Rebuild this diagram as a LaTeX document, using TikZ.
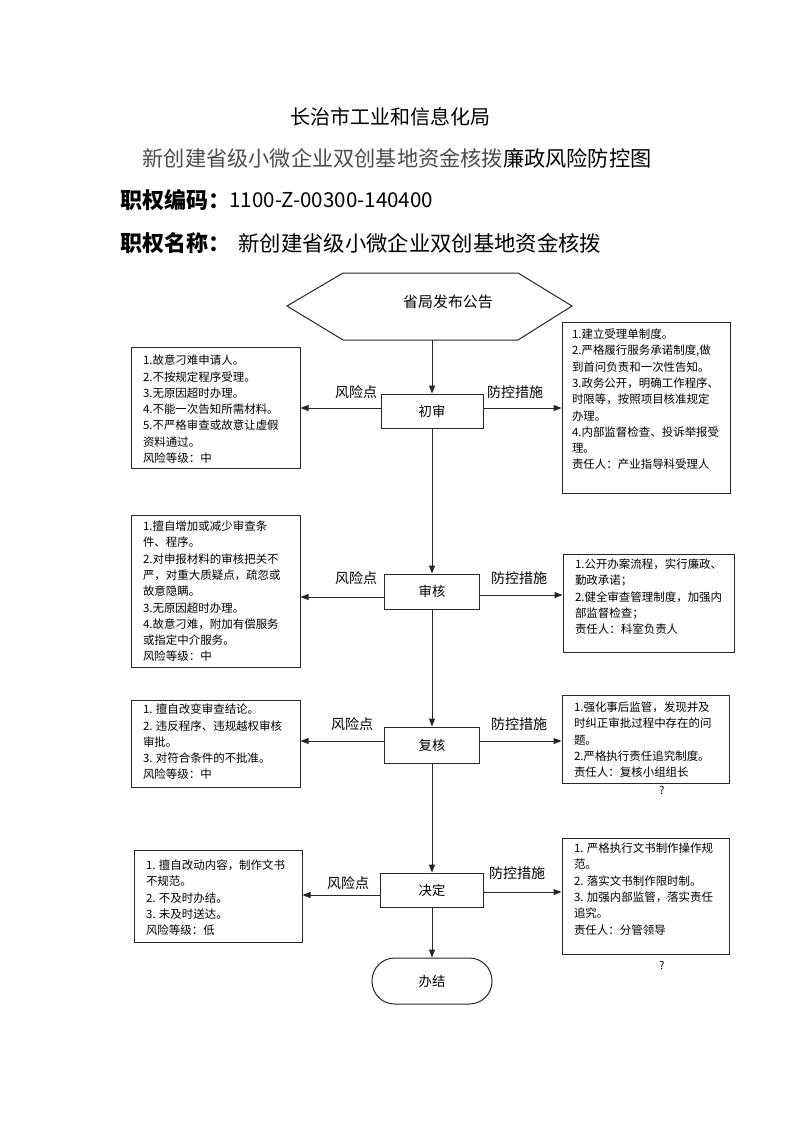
\documentclass[tikz,border=0pt]{standalone}
\usepackage{fontspec}
\setmainfont{Noto Sans CJK SC}
\usetikzlibrary{arrows.meta,fit}

\begin{document}
\begin{tikzpicture}[x=0.75pt,y=-0.75pt,line width=0.75pt,
  flow/.style={draw=black!85,-{Triangle[length=6pt,width=4.5pt]}},
  procbox/.style={draw=black!85,inner sep=0pt,font=\fontsize{10}{12}\selectfont},
  framebox/.style={draw=black!85,inner sep=0pt},
  memo/.style={inner sep=0pt,anchor=north west,align=left,font=\fontsize{8.6}{12.2}\selectfont},
  tag/.style={inner sep=0pt,font=\fontsize{10.5}{12}\selectfont}]
 \fill[white] (0,0) rectangle (794,1123);
 % heading
 \node[inner sep=0pt,font=\fontsize{15}{18}\selectfont] (org) at (390,117) {长治市工业和信息化局};
 \node[inner sep=0pt,font=\fontsize{15.9}{18}\selectfont] (title) at (397,158)
  {\textcolor{black!70}{新创建省级小微企业双创基地资金核拨}廉政风险防控图};
 \node[inner sep=0pt,anchor=west,font=\fontsize{16.5}{20}\selectfont\bfseries] (codelbl) at (120,200) {职权编码：};
 \node[inner sep=0pt,anchor=west,font=\fontsize{15.4}{20}\selectfont] (code) at (229,200) {1100-Z-00300-140400};
 \node[inner sep=0pt,anchor=west,font=\fontsize{16.5}{20}\selectfont\bfseries] (namelbl) at (120,243) {职权名称：};
 \node[inner sep=0pt,anchor=west,font=\fontsize{16}{20}\selectfont] (name) at (238,243) {新创建省级小微企业双创基地资金核拨};
 % start
 \draw[black!85] (287,306) -- (343,273) -- (518,273) -- (572,306) -- (518,340) -- (343,340) -- cycle;
 \node[inner sep=0pt,font=\fontsize{11.2}{13}\selectfont] (notice) at (448,302) {省局发布公告};
 \coordinate (hexbot) at (432,340);
 % steps
 \node[procbox,minimum width=76.5pt,minimum height=25.5pt] (chushen) at (432,411) {初审};
 \node[procbox,minimum width=71.25pt,minimum height=26.25pt] (shenhe) at (432,591.5) {审核};
 \node[procbox,minimum width=71.25pt,minimum height=27pt] (fuhe) at (432,745) {复核};
 \node[procbox,minimum width=77.25pt,minimum height=25.5pt] (jueding) at (432,890) {决定};
 \node[procbox,minimum width=90pt,minimum height=34.5pt,rounded corners=17pt] (banjie) at (432,981) {办结};
 % risk boxes
 \node[framebox,fit={(131,347) (300,468)}] (riskA) {};
 \node[framebox,fit={(131,515) (300,667)}] (riskB) {};
 \node[framebox,fit={(131,700) (300,787)}] (riskC) {};
 \node[framebox,fit={(134,850) (302,942)}] (riskD) {};
 \node[memo] (riskAtxt) at ([shift={(12,8)}]riskA.north west)
  {1.故意刁难申请人。\\2.不按规定程序受理。\\3.无原因超时办理。\\4.不能一次告知所需材料。\\5.不严格审查或故意让虚假\\资料通过。\\风险等级：中};
 \node[memo] (riskBtxt) at ([shift={(12,6)}]riskB.north west)
  {1.擅自增加或减少审查条\\件、程序。\\2.对申报材料的审核把关不\\严，对重大质疑点，疏忽或\\故意隐瞒。\\3.无原因超时办理。\\4.故意刁难，附加有偿服务\\或指定中介服务。\\风险等级：中};
 \node[memo] (riskCtxt) at ([shift={(12,4)}]riskC.north west)
  {1. 擅自改变审查结论。\\2. 违反程序、违规越权审核\\审批。\\3. 对符合条件的不批准。\\风险等级：中};
 \node[memo] (riskDtxt) at ([shift={(12,10)}]riskD.north west)
  {1. 擅自改动内容，制作文书\\不规范。\\2. 不及时办结。\\3. 未及时送达。\\风险等级：低};
 % control boxes
 \node[framebox,fit={(562,322) (730,493)}] (ctrlA) {};
 \node[framebox,fit={(563,554) (734,652)}] (ctrlB) {};
 \node[framebox,fit={(562,695) (729,783)}] (ctrlC) {};
 \node[framebox,fit={(562,838) (729,954)}] (ctrlD) {};
 \node[memo] (ctrlAtxt) at ([shift={(10,7)}]ctrlA.north west)
  {1.建立受理单制度。\\2.严格履行服务承诺制度,做\\到首问负责和一次性告知。\\3.政务公开，明确工作程序、\\时限等，按照项目核准规定\\办理。\\4.内部监督检查、投诉举报受\\理。\\责任人：产业指导科受理人};
 \node[memo] (ctrlBtxt) at ([shift={(12,5)}]ctrlB.north west)
  {1.公开办案流程，实行廉政、\\勤政承诺；\\2.健全审查管理制度，加强内\\部监督检查；\\责任人：科室负责人};
 \node[memo] (ctrlCtxt) at ([shift={(12,7)}]ctrlC.north west)
  {1.强化事后监管，发现并及\\时纠正审批过程中存在的问\\题。\\2.严格执行责任追究制度。\\责任人：复核小组组长};
 \node[memo] (ctrlDtxt) at ([shift={(12,5)}]ctrlD.north west)
  {1. 严格执行文书制作操作规\\范。\\2. 落实文书制作限时制。\\3. 加强内部监管，落实责任\\追究。\\责任人：分管领导};
 \node[inner sep=0pt,font=\fontsize{8}{10}\selectfont] (qC) at (662,790) {?};
 \node[inner sep=0pt,font=\fontsize{8}{10}\selectfont] (qD) at (662,965) {?};
 % tags
 \node[tag] (riskAtag) at (356,392) {风险点};
 \node[tag] (ctrlAtag) at (515,392) {防控措施};
 \node[tag] (riskBtag) at (356,578) {风险点};
 \node[tag] (ctrlBtag) at (519,578) {防控措施};
 \node[tag] (riskCtag) at (352,724) {风险点};
 \node[tag] (ctrlCtag) at (519,724) {防控措施};
 \node[tag] (riskDtag) at (348,883) {风险点};
 \node[tag] (ctrlDtag) at (517,873) {防控措施};
 % main line
 \draw[flow] (hexbot) -- (chushen.north);
 \draw[flow] (chushen.south) -- (shenhe.north);
 \draw[flow] (shenhe.south) -- (fuhe.north);
 \draw[flow] (fuhe.south) -- (jueding.north);
 \draw[flow] (jueding.south) -- (banjie.north);
 % side arrows
 \foreach \p/\r/\c/\dl/\dr in {chushen/riskA/ctrlA/-3/-3, shenhe/riskB/ctrlB/5.5/3.5,
   fuhe/riskC/ctrlC/-4/-4, jueding/riskD/ctrlD/5/2}
 {\draw[flow] ([shift={(0,\dl)}]\p.west) coordinate (l) -- (l -| \r.east);
  \draw[flow] ([shift={(0,\dr)}]\p.east) coordinate (r) -- (r -| \c.west);}
\end{tikzpicture}
\end{document}
